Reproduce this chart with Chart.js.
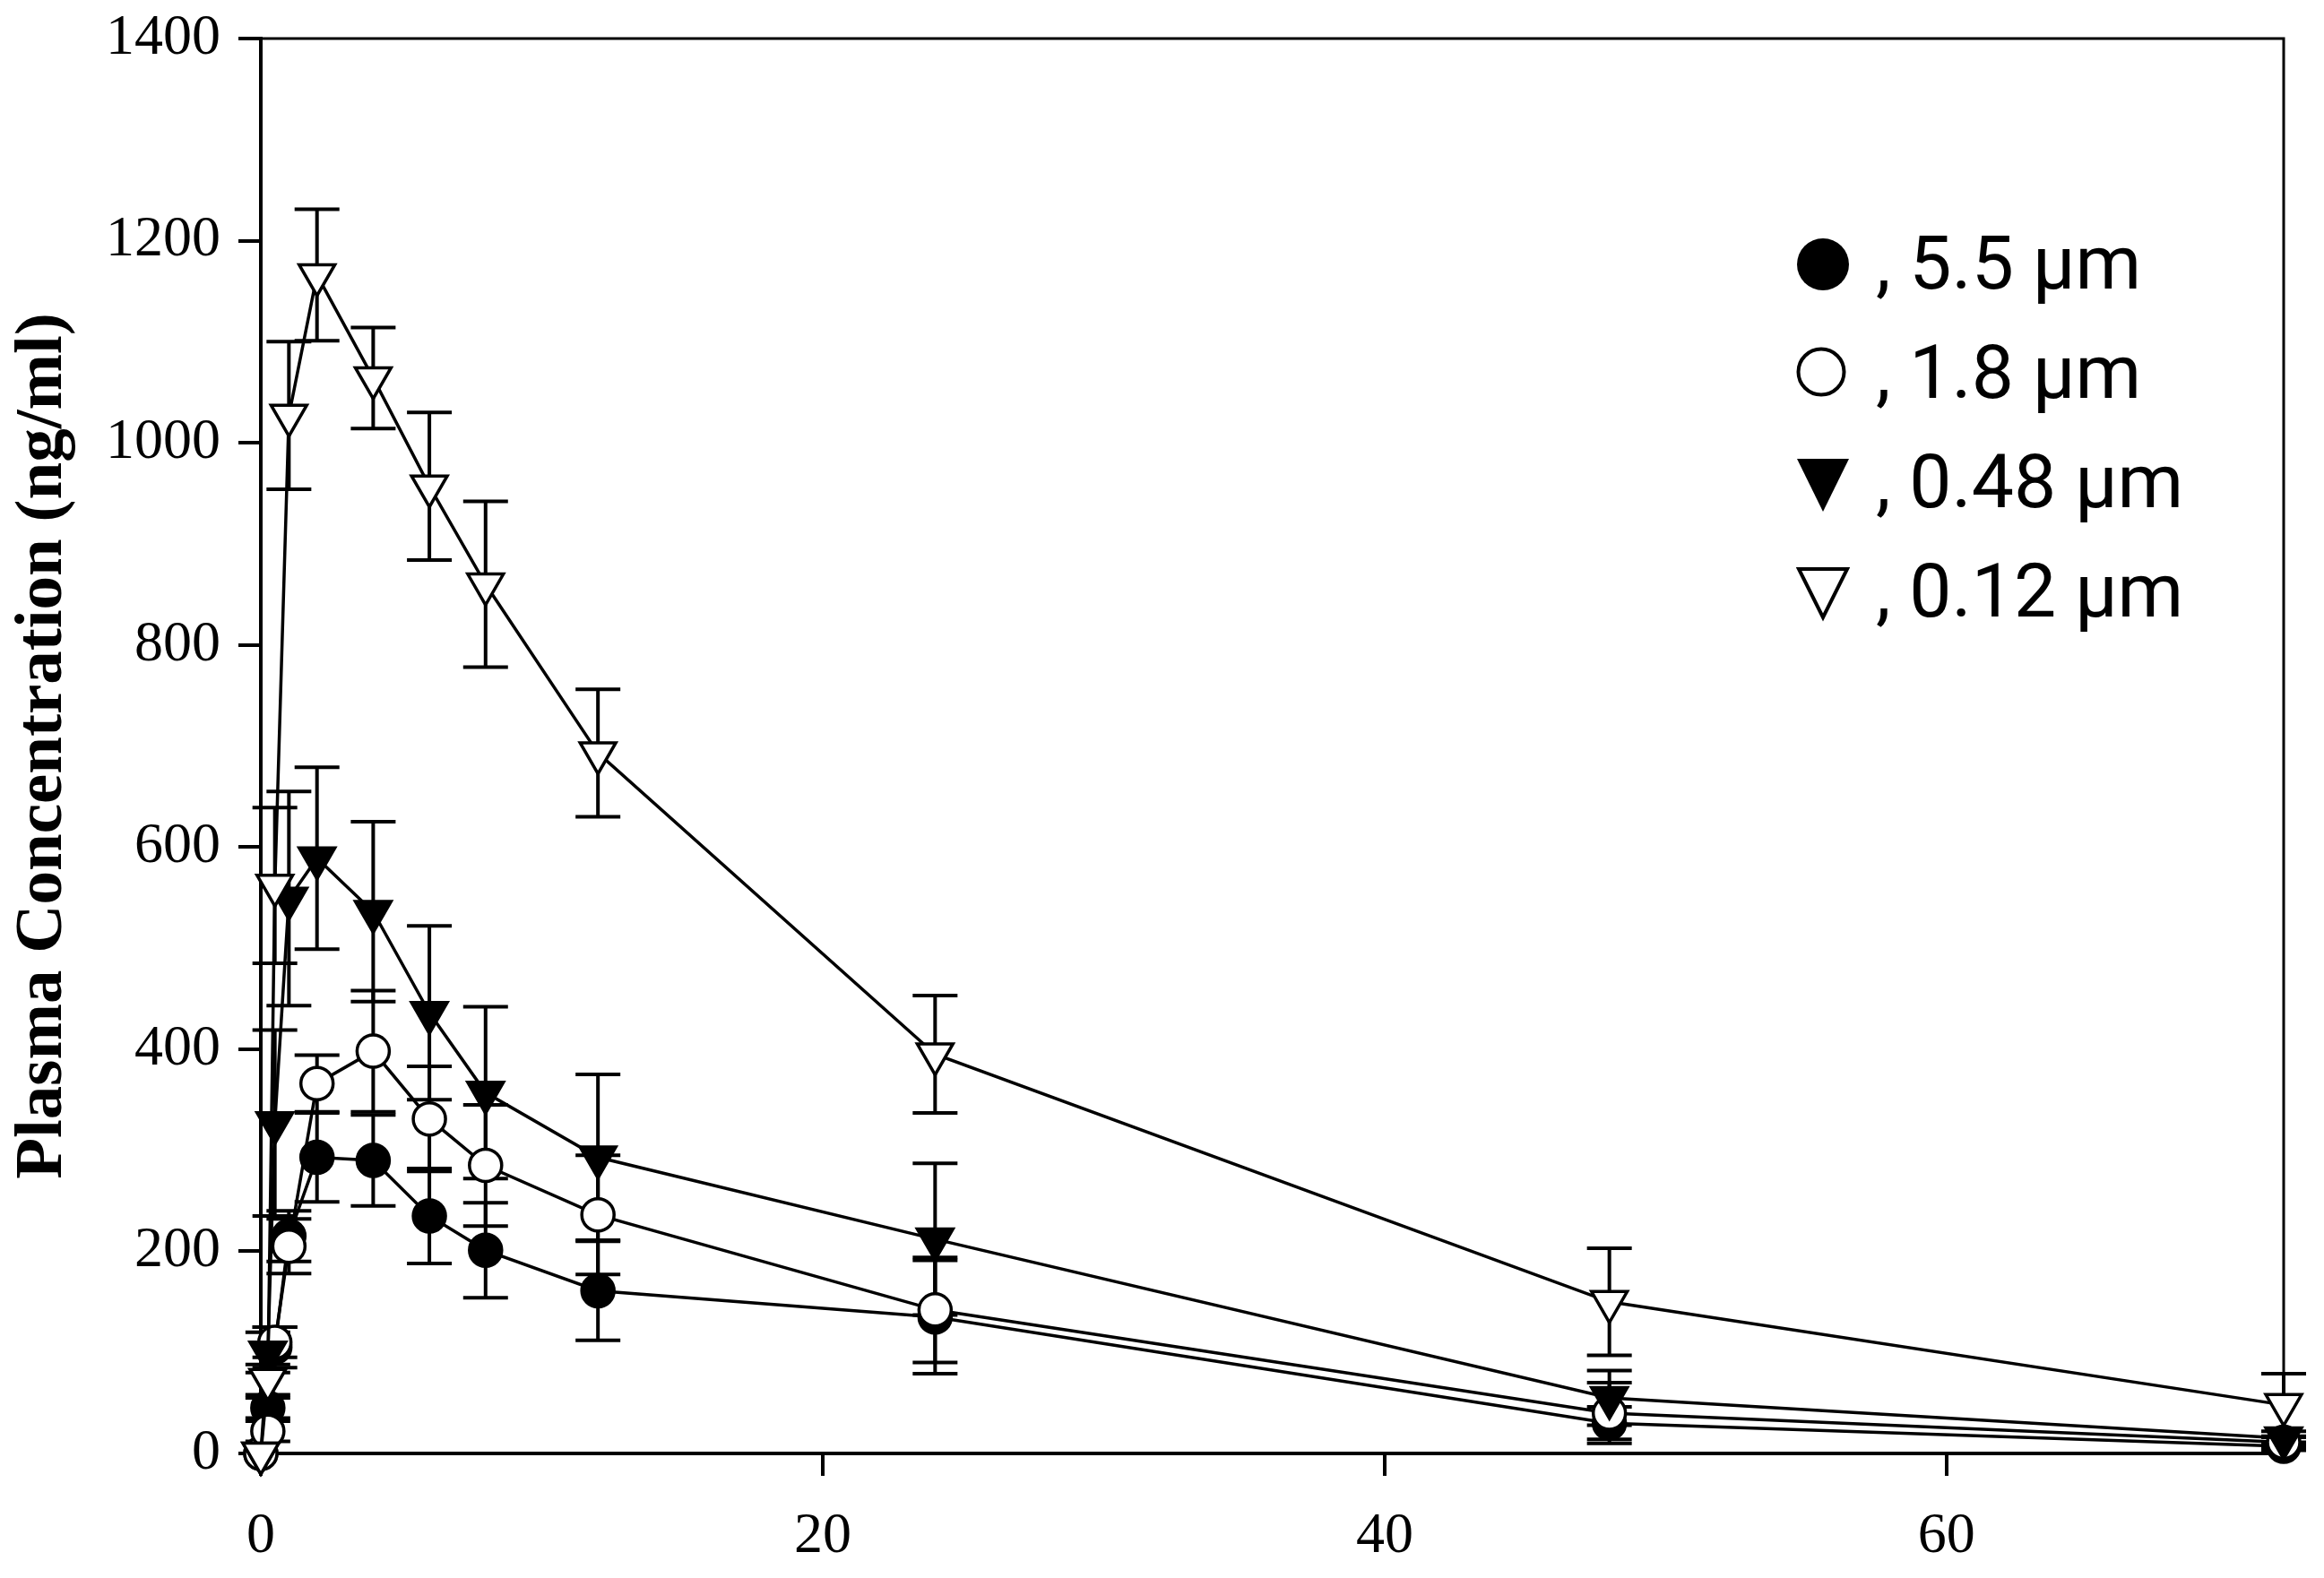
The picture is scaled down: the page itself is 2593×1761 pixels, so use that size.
<!DOCTYPE html>
<html>
<head>
<meta charset="utf-8">
<title>Plasma concentration</title>
<script src="https://cdn.jsdelivr.net/npm/chart.js@4.4.1/dist/chart.umd.min.js"></script>
<style>
  html, body { margin: 0; padding: 0; background: #fff; }
  #wrap { position: relative; width: 2593px; height: 1761px; }
  #legend { position: absolute; left: 2000px; top: 233px; font-family: Roboto, sans-serif; font-size: 84px; color: #000; }
  #legend .row { position: absolute; left: 93px; white-space: nowrap; line-height: 122px; height: 122px; }
  #legend svg { position: absolute; }
</style>
</head>
<body>
<div id="wrap">
  <canvas id="pk"></canvas>
  <div id="legend">
    <svg style="left:4px;top:32px" width="60" height="60"><circle cx="30" cy="30" r="29" fill="#000"/></svg>
    <div class="row" style="top:0px">, 5.5 µm</div>
    <svg style="left:2px;top:152px" width="60" height="60"><circle cx="30" cy="30" r="25.5" fill="#fff" stroke="#000" stroke-width="4"/></svg>
    <div class="row" style="top:122px">, 1.8 µm</div>
    <svg style="left:4px;top:278px" width="60" height="62"><polygon points="1,1 59,1 30,60" fill="#000"/></svg>
    <div class="row" style="top:244px">, 0.48 µm</div>
    <svg style="left:4px;top:399px" width="60" height="62"><polygon points="3,3 57,3 30,57" fill="#fff" stroke="#000" stroke-width="4" stroke-linejoin="miter"/></svg>
    <div class="row" style="top:366px">, 0.12 µm</div>
  </div>
</div>
<script>
// sampling times (h)
const times = [0, 0.25, 0.5, 1, 2, 4, 6, 8, 12, 24, 48, 72];

// mean plasma concentration (ng/ml) and SD per particle size
const conc55  = [0, 45, 105, 215, 293, 290, 235, 201, 161, 135, 30, 7];
const sd55    = [0, 10, 20, 25, 44, 45, 47, 47, 49, 56, 16, 4];
const conc18  = [0, 22, 110, 205, 366, 398, 331, 285, 236, 142, 40, 11];
const sd18    = [0, 10, 15, 27, 28, 60, 52, 60, 59, 52, 30, 5];
const conc048 = [0, 100, 327, 549, 589, 536, 436, 357, 293, 212, 55, 15];
const sd048   = [0, 20, 92, 106, 90, 89, 86, 85, 82, 75, 27, 7];
const conc012 = [0, 73, 562, 1027, 1166, 1064, 957, 860, 693, 395, 150, 48];
const sd012   = [0, 15, 77, 73, 65, 50, 73, 82, 63, 58, 53, 31];

const xTicks = [0, 20, 40, 60];
const yTicks = [0, 200, 400, 600, 800, 1000, 1200, 1400];

const pts = vals => vals.map((v, i) => ({ x: times[i], y: v }));

const series = (label, vals, sd, style, fill) => ({
    label, data: pts(vals), sd,
    borderColor: '#000', borderWidth: 3.5,
    pointStyle: style, pointRotation: style === 'triangle' ? 180 : 0,
    pointRadius: style === 'triangle' ? 23 : 18,
    pointBorderWidth: 3.5, pointBorderColor: '#000',
    pointBackgroundColor: fill, pointHoverRadius: 0,
    tension: 0, clip: false, fill: false
});

// frame + error bars, drawn under the markers
const errorBars = {
    id: 'errorBars',
    beforeDatasetsDraw(chart) {
        const { ctx, chartArea: a, scales: { x, y } } = chart;
        ctx.save();
        ctx.strokeStyle = '#000';
        ctx.lineWidth = 3;
        ctx.beginPath();
        ctx.moveTo(a.left, a.top); ctx.lineTo(a.right, a.top); ctx.lineTo(a.right, a.bottom);
        ctx.stroke();
        ctx.lineWidth = 4;
        chart.data.datasets.forEach(ds => {
            ds.data.forEach((p, i) => {
                const e = ds.sd[i];
                if (!e) return;
                const px = x.getPixelForValue(p.x);
                const t = y.getPixelForValue(p.y + e), b = y.getPixelForValue(p.y - e);
                ctx.beginPath();
                ctx.moveTo(px, t); ctx.lineTo(px, b);
                ctx.moveTo(px - 25, t); ctx.lineTo(px + 25, t);
                ctx.moveTo(px - 25, b); ctx.lineTo(px + 25, b);
                ctx.stroke();
            });
        });
        ctx.restore();
    }
};

const tickFont = { family: 'Liberation Serif', size: 64 };
const axisGrid = { drawOnChartArea: false, color: '#000', lineWidth: 4, tickLength: 25, tickWidth: 4, tickColor: '#000' };

new Chart(document.getElementById('pk'), {
    type: 'line',
    data: {
        datasets: [
            series('0.12 µm', conc012, sd012, 'triangle', '#fff'),
            series('0.48 µm', conc048, sd048, 'triangle', '#000'),
            series('1.8 µm', conc18, sd18, 'circle', '#fff'),
            series('5.5 µm', conc55, sd55, 'circle', '#000')
        ]
    },
    options: {
        responsive: true, maintainAspectRatio: false, animation: false, devicePixelRatio: 1,
        layout: { padding: { top: 43, right: 45, left: 0, bottom: 0 } },
        plugins: { legend: { display: false }, tooltip: { enabled: false } },
        events: [],
        scales: {
            x: {
                type: 'linear', min: 0, max: 72,
                grid: axisGrid,
                border: { display: true, color: '#000', width: 4 },
                ticks: { font: tickFont, color: '#000', padding: 30, maxRotation: 0, callback: v => String(v) },
                afterBuildTicks: s => { s.ticks = xTicks.map(v => ({ value: v })); },
                afterFit: s => { s.height = 139; s.paddingLeft = 0; s.paddingRight = 0; }
            },
            y: {
                type: 'linear', min: 0, max: 1400,
                grid: axisGrid,
                border: { display: true, color: '#000', width: 4 },
                ticks: { font: tickFont, color: '#000', padding: 20, callback: v => String(v) },
                afterBuildTicks: s => { s.ticks = yTicks.map(v => ({ value: v })); },
                afterFit: s => { s.width = 291; s.paddingTop = 0; s.paddingBottom = 0; },
                title: {
                    display: true, text: 'Plasma Concentration (ng/ml)', color: '#000',
                    font: { family: 'Liberation Serif', size: 75, weight: 'bold' },
                    padding: { top: 4, bottom: 4 }
                }
            }
        }
    },
    plugins: [errorBars]
});
</script>
</body>
</html>
